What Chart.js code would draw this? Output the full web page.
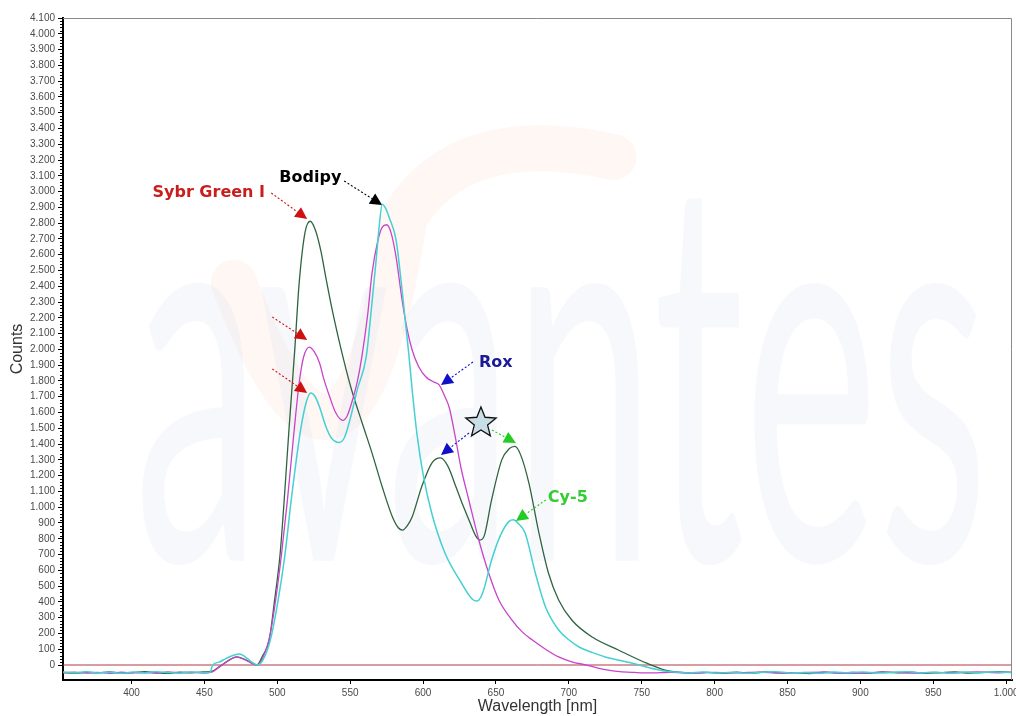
<!DOCTYPE html>
<html>
<head>
<meta charset="utf-8">
<script src="https://cdn.jsdelivr.net/npm/chart.js@4.4.0/dist/chart.umd.min.js"></script>
<style>
  html, body { margin: 0; padding: 0; background: #ffffff; }
  #wrap { width: 1016px; height: 716px; }
</style>
</head>
<body>
<div id="wrap"><canvas id="spectrum" width="1016" height="716"></canvas></div>
<script>
// Axis ranges and tick values
const wavelengthRange = [353, 1004];
const countsRange = [-95, 4100];
const wavelengthTicks = [400, 450, 500, 550, 600, 650, 700, 750, 800, 850, 900, 950, 1000];
const countsTicks = [0, 100, 200, 300, 400, 500, 600, 700, 800, 900, 1000, 1100, 1200, 1300,
  1400, 1500, 1600, 1700, 1800, 1900, 2000, 2100, 2200, 2300, 2400, 2500, 2600, 2700, 2800,
  2900, 3000, 3100, 3200, 3300, 3400, 3500, 3600, 3700, 3800, 3900, 4000, 4100];
const countsMinorStep = 20;

// Green trace (Sybr Green I / Cy-5 channel)
const greenNm = [353, 361, 369, 377, 385, 393, 401, 409, 417, 425, 433, 441, 449, 455,
  460, 466, 472, 478, 483, 486, 490, 494.5, 498, 502, 505, 508, 512, 515, 519, 522.5, 526, 530,
  533, 537, 542, 547, 551, 558, 565, 572, 579, 583, 586, 589, 592.5, 599, 606, 612, 617,
  622.6, 627, 631.5, 636, 639, 642, 647, 654, 659, 663, 667, 672.6, 679.5, 686, 693, 702,
  716, 734, 753, 766, 775, 785, 795, 805, 815, 825, 835, 845, 855, 865, 875, 885, 895, 905,
  915, 925, 935, 945, 955, 965, 975, 985, 995, 1004];
const greenCounts = [-47, -52, -46, -50, -44, -51, -48, -42, -49, -53, -45, -50, -44, -40,
  -12, 25, 52, 35, 10, 0, 60, 160, 400, 710, 1080, 1490, 2000, 2420, 2740, 2812, 2760, 2620,
  2470, 2280, 2070, 1880, 1743, 1540, 1343, 1128, 938, 870, 855, 880, 938, 1128, 1280, 1312, 1260,
  1128, 1020, 919, 820, 792, 820, 1046, 1300, 1370, 1385, 1330, 1153, 836, 583, 412, 285,
  177, 95, 13, -32, -45, -50, -47, -53, -46, -51, -44, -50, -48, -54, -45, -50, -47, -52,
  -44, -50, -46, -53, -48, -44, -51, -47, -42, -48];

// Magenta trace (Bodipy / Rox channel)
const magentaNm = [353, 361, 369, 377, 385, 393, 401, 409, 417, 425, 433, 441, 449, 455,
  460, 466, 472, 478, 483, 486, 490, 495, 499, 503, 507, 511.6, 515, 518, 522, 525, 529, 532,
  536, 540, 545, 548, 551, 555, 558, 562, 565, 569, 572, 575, 578, 581.5, 585.6, 589, 592.5,
  597, 602, 607, 611, 615, 618, 622, 626, 631, 638, 645, 652, 661, 668, 675, 684, 693, 702,
  712, 720, 727, 735, 745, 755, 770, 785, 800, 815, 830, 845, 860, 875, 890, 905, 920, 935,
  950, 965, 980, 995, 1004];
const magentaCounts = [-50, -45, -51, -47, -53, -46, -50, -48, -52, -44, -49, -46, -51, -45,
  -15, 25, 50, 32, 8, 0, 45, 190, 420, 710, 1050, 1490, 1787, 1950, 2015, 1990, 1914, 1810,
  1698, 1600, 1550, 1580, 1660, 1800, 1952, 2220, 2484, 2690, 2775, 2790, 2740, 2585, 2313, 2130, 1996,
  1890, 1825, 1795, 1775, 1700, 1630, 1450, 1250, 1060, 800, 583, 412, 285, 210, 158, 100, 51, 20,
  0, -20, -32, -42, -47, -50, -46, -52, -47, -50, -45, -52, -48, -46, -53, -49, -45, -51,
  -47, -50, -44, -49, -46];

// Cyan trace
const cyanNm = [353, 361, 369, 377, 385, 393, 401, 409, 417, 425, 433, 441, 449, 454,
  455.5, 460, 465, 470, 474, 478, 482, 486, 490, 495, 500, 505, 510, 516, 520, 523, 526, 529,
  533, 537, 542.5, 546, 550, 555, 561, 565, 568, 570, 572, 574, 577, 581.5, 585.6, 590, 593,
  596, 600, 606, 615, 625, 634, 637, 641, 647, 653, 659, 662, 665, 670, 677, 684, 693, 700,
  707, 716, 725, 743, 752, 762, 772, 782, 792, 802, 812, 822, 832, 842, 852, 862, 872, 882,
  892, 902, 912, 922, 932, 942, 952, 962, 972, 982, 992, 1004];
const cyanCounts = [-44, -49, -42, -50, -46, -53, -45, -50, -43, -48, -52, -44, -49, -46,
  -2, 18, 42, 62, 70, 52, 22, 0, 30, 150, 380, 680, 1080, 1490, 1670, 1724, 1700, 1635,
  1520, 1440, 1410, 1440, 1560, 1750, 1952, 2300, 2585, 2790, 2920, 2900, 2830, 2693, 2376, 1990, 1700,
  1450, 1210, 960, 710, 540, 415, 405, 460, 665, 820, 910, 920, 900, 836, 583, 368, 222, 160,
  114, 80, 51, 13, -10, -32, -45, -50, -44, -51, -46, -53, -47, -43, -50, -48, -52, -45,
  -49, -44, -51, -47, -42, -50, -46, -53, -45, -49, -44, -48];

// Dye labels and their arrows, anchored in data coordinates (nm, counts)
const dyeLabels = [
  { text: 'Sybr Green I', at: [414.4, 2991], color: '#c81e1e' },
  { text: 'Bodipy', at: [501.4, 3086], color: '#000000' },
  { text: 'Rox', at: [638.4, 1914], color: '#1a1a96' },
  { text: 'Cy-5', at: [685.6, 1058], color: '#33cc33' }
];
const dyeArrows = [
  { from: [495.9, 2991], to: [520.5, 2826], color: '#d01010' },
  { from: [496.6, 2205], to: [520.5, 2060], color: '#d01010' },
  { from: [496.6, 1876], to: [520.5, 1724], color: '#d01010' },
  { from: [545.9, 3067], to: [571.9, 2915], color: '#000000' },
  { from: [634.2, 1920], to: [612.3, 1774], color: '#1010c8' },
  { from: [631.5, 1470], to: [612.3, 1331], color: '#1010c8' },
  { from: [647.3, 1489], to: [663.7, 1407], color: '#22cc22' },
  { from: [684.2, 1046], to: [663.7, 913], color: '#22cc22' }
];
const starAt = [639.7, 1534];

function pairs(xs, ys) {
  return xs.map((x, i) => ({ x: x, y: ys[i] }));
}

function thousands(v) {
  if (Math.abs(v) >= 1000) {
    const sign = v < 0 ? '-' : '';
    const a = Math.abs(v);
    return sign + Math.floor(a / 1000) + '.' + String(a % 1000).padStart(3, '0');
  }
  return String(v);
}

// Faint company watermark behind the traces
const watermark = {
  id: 'watermark',
  beforeDatasetsDraw(chart) {
    const { ctx, chartArea: a } = chart;
    const w = a.right - a.left, h = a.bottom - a.top;
    ctx.save();
    ctx.beginPath();
    ctx.rect(a.left, a.top, w, h);
    ctx.clip();
    // orange swoosh
    ctx.strokeStyle = 'rgba(248, 205, 185, 0.16)';
    ctx.lineWidth = 46;
    ctx.lineCap = 'round';
    ctx.beginPath();
    ctx.moveTo(a.left + w * 0.18, a.top + h * 0.40);
    ctx.quadraticCurveTo(a.left + w * 0.30, a.top + h * 0.85, a.left + w * 0.36, a.top + h * 0.30);
    ctx.quadraticCurveTo(a.left + w * 0.42, a.top + h * 0.16, a.left + w * 0.58, a.top + h * 0.21);
    ctx.stroke();
    // lettering
    ctx.font = '400 540px Lato, "Open Sans", sans-serif';
    ctx.textBaseline = 'alphabetic';
    const tw = ctx.measureText('avantes').width;
    const targetW = w * 0.90;
    ctx.translate(a.left + w * 0.075, a.top + h * 0.82);
    ctx.scale(targetW / tw, 1);
    ctx.fillStyle = 'rgba(220, 223, 238, 0.22)';
    ctx.fillText('avantes', 0, 0);
    ctx.restore();
  }
};

// Minor ticks along the counts axis, frame lines and the dye annotations
const decorations = {
  id: 'decorations',
  afterDatasetsDraw(chart) {
    const { ctx, chartArea: a, scales } = chart;
    const xs = scales.x, ys = scales.y;
    ctx.save();
    // frame on top and right
    ctx.strokeStyle = '#8a8a8a';
    ctx.lineWidth = 1;
    ctx.beginPath();
    ctx.moveTo(a.left, a.top + 0.5);
    ctx.lineTo(a.right - 0.5, a.top + 0.5);
    ctx.lineTo(a.right - 0.5, a.bottom);
    ctx.stroke();

    // arrows
    dyeArrows.forEach(arr => {
      const x1 = xs.getPixelForValue(arr.from[0]), y1 = ys.getPixelForValue(arr.from[1]);
      const x2 = xs.getPixelForValue(arr.to[0]), y2 = ys.getPixelForValue(arr.to[1]);
      const ang = Math.atan2(y2 - y1, x2 - x1);
      const len = 12, half = 6;
      const bx = x2 - Math.cos(ang) * len, by = y2 - Math.sin(ang) * len;
      ctx.strokeStyle = arr.color;
      ctx.lineWidth = 1.1;
      ctx.setLineDash([2, 2]);
      ctx.beginPath();
      ctx.moveTo(x1, y1);
      ctx.lineTo(bx, by);
      ctx.stroke();
      ctx.setLineDash([]);
      ctx.fillStyle = arr.color;
      ctx.beginPath();
      ctx.moveTo(x2, y2);
      ctx.lineTo(bx + Math.sin(ang) * half, by - Math.cos(ang) * half);
      ctx.lineTo(bx - Math.sin(ang) * half, by + Math.cos(ang) * half);
      ctx.closePath();
      ctx.fill();
    });

    // labels
    ctx.font = 'bold 16px "DejaVu Sans", sans-serif';
    ctx.textBaseline = 'middle';
    ctx.textAlign = 'left';
    dyeLabels.forEach(l => {
      ctx.fillStyle = l.color;
      ctx.fillText(l.text, xs.getPixelForValue(l.at[0]), ys.getPixelForValue(l.at[1]));
    });

    // star marker
    const cx = xs.getPixelForValue(starAt[0]), cy = ys.getPixelForValue(starAt[1]);
    const ro = 16, ri = 7;
    ctx.beginPath();
    for (let i = 0; i < 10; i++) {
      const r = i % 2 === 0 ? ro : ri;
      const t = -Math.PI / 2 + i * Math.PI / 5;
      const px = cx + r * Math.cos(t), py = cy + r * Math.sin(t);
      if (i === 0) ctx.moveTo(px, py); else ctx.lineTo(px, py);
    }
    ctx.closePath();
    ctx.fillStyle = '#c9dde6';
    ctx.fill();
    ctx.strokeStyle = '#111111';
    ctx.lineWidth = 1.3;
    ctx.stroke();
    ctx.restore();
  },
  afterDraw(chart) {
    const { ctx, chartArea: a, scales } = chart;
    const ys = scales.y;
    ctx.save();
    ctx.strokeStyle = '#000000';
    ctx.lineWidth = 1;
    const top = countsTicks[countsTicks.length - 1];
    for (let v = countsTicks[0]; v <= top; v += countsMinorStep) {
      if (countsTicks.includes(v)) continue;
      const py = Math.round(ys.getPixelForValue(v)) + 0.5;
      ctx.beginPath();
      ctx.moveTo(a.left - 3, py);
      ctx.lineTo(a.left, py);
      ctx.stroke();
    }
    ctx.restore();
  }
};

const tickFont = { family: '"Liberation Sans", Arial, sans-serif', size: 10 };
const titleFont = { family: '"Liberation Sans", Arial, sans-serif', size: 16 };

new Chart(document.getElementById('spectrum'), {
  type: 'line',
  data: {
    datasets: [
      {
        label: 'Cyan',
        data: pairs(cyanNm, cyanCounts),
        borderColor: '#45d0d2',
        borderWidth: 1.5
      },
      {
        label: 'Magenta',
        data: pairs(magentaNm, magentaCounts),
        borderColor: '#c844c8',
        borderWidth: 1.3
      },
      {
        label: 'Green',
        data: pairs(greenNm, greenCounts),
        borderColor: '#2f6440',
        borderWidth: 1.3
      },
      {
        label: 'Zero',
        data: pairs(wavelengthRange, [0, 0]),
        borderColor: '#b03844',
        borderWidth: 1,
        tension: 0
      }
    ]
  },
  options: {
    responsive: false,
    animation: false,
    devicePixelRatio: 1,
    layout: { padding: { top: 18, right: 4, left: 0, bottom: 0 } },
    elements: {
      point: { radius: 0 },
      line: { cubicInterpolationMode: 'monotone', fill: false }
    },
    plugins: {
      legend: { display: false },
      tooltip: { enabled: false }
    },
    scales: {
      x: {
        type: 'linear',
        min: wavelengthRange[0],
        max: wavelengthRange[1],
        border: { display: true, color: '#000000', width: 2 },
        grid: { drawOnChartArea: false, drawTicks: true, tickLength: 4, color: '#000000' },
        afterBuildTicks(scale) {
          scale.ticks = wavelengthTicks.map(v => ({ value: v }));
        },
        ticks: {
          autoSkip: false,
          maxRotation: 0,
          padding: 3,
          color: '#4a4a4a',
          font: tickFont,
          callback: v => thousands(v)
        },
        title: {
          display: true,
          text: 'Wavelength [nm]',
          color: '#333333',
          font: titleFont,
          padding: { top: 0, bottom: 0 }
        },
        afterFit(scale) {
          scale.height = 36;
          scale.paddingLeft = 0;
          scale.paddingRight = 0;
        }
      },
      y: {
        type: 'linear',
        min: countsRange[0],
        max: countsRange[1],
        border: { display: true, color: '#000000', width: 2 },
        grid: { drawOnChartArea: false, drawTicks: true, tickLength: 5, color: '#000000' },
        afterBuildTicks(scale) {
          scale.ticks = countsTicks.map(v => ({ value: v }));
        },
        ticks: {
          autoSkip: false,
          padding: 3,
          color: '#4a4a4a',
          font: tickFont,
          callback: v => thousands(v)
        },
        title: {
          display: true,
          text: 'Counts',
          color: '#333333',
          font: titleFont,
          padding: { top: 8, bottom: 0 }
        },
        afterFit(scale) {
          scale.width = 63;
          scale.paddingTop = 0;
          scale.paddingBottom = 0;
        }
      }
    }
  },
  plugins: [watermark, decorations]
});
</script>
</body>
</html>
